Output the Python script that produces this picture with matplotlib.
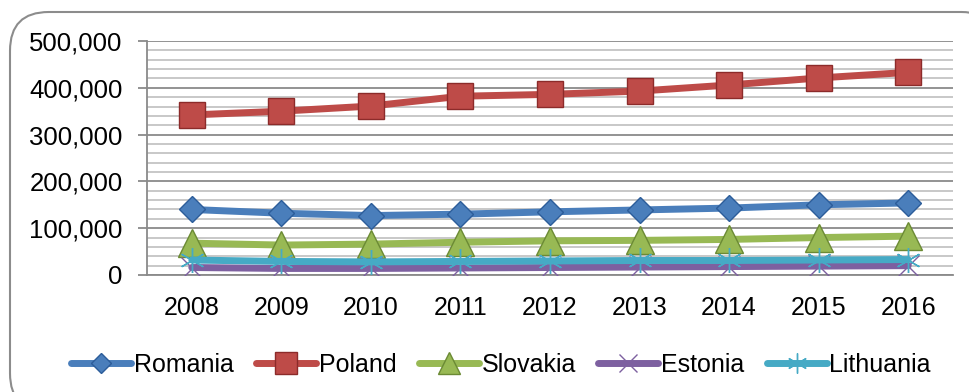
import matplotlib.pyplot as plt
from matplotlib.patches import FancyBboxPatch
from matplotlib.ticker import FuncFormatter, MultipleLocator

plt.rcParams['font.family'] = ['Liberation Sans', 'DejaVu Sans']

years = ['2008', '2009', '2010', '2011', '2012', '2013', '2014', '2015', '2016']
romania = [140000, 132000, 127000, 130000, 135000, 139000, 143000, 150000, 154000]
poland = [342000, 350000, 361000, 382000, 386000, 393000, 406000, 421000, 433000]
slovakia = [68000, 64000, 66000, 70000, 73000, 74000, 76000, 80000, 83000]
estonia = [16000, 14000, 14000, 15000, 16000, 17000, 18000, 19000, 20000]
lithuania = [32000, 29000, 28000, 29000, 30000, 31000, 31000, 32000, 33000]

fig = plt.figure(figsize=(9.69, 3.92), dpi=100)

# rounded chart frame
frame = FancyBboxPatch((10 / 969, -20 / 392), 990 / 969, 400 / 392,
                       boxstyle='round,pad=0,rounding_size=0.04',
                       transform=fig.transFigure, facecolor='white',
                       edgecolor='#8c8c8c', linewidth=1.5, zorder=-1,
                       mutation_aspect=969 / 392)
fig.add_artist(frame)

ax = fig.add_axes([147 / 969, 1 - 275 / 392, 806 / 969, 234 / 392])
ax.set_facecolor('none')
ax.set_zorder(1)

x = range(len(years))
series = [
    ('Romania', romania, '#4a7ebb', '#2c5d9a', 'D', 13),
    ('Poland', poland, '#be4b48', '#8c2b2a', 's', 19),
    ('Slovakia', slovakia, '#98b954', '#6b8a34', '^', 20),
    ('Estonia', estonia, '#7d60a0', '#7d60a0', 'x', 16),
    ('Lithuania', lithuania, '#46aac5', '#46aac5', (6, 2, 0), 18),
]
for i, (name, vals, col, edge, mk, ms) in enumerate(series):
    ax.plot(x, vals, color=col, linewidth=5, marker=mk, markersize=ms,
            markerfacecolor=col, markeredgecolor=edge, markeredgewidth=1.0,
            label=name, zorder=3 + i, solid_capstyle='round')

ax.set_xlim(-0.5, len(years) - 0.5)
ax.set_ylim(0, 500000)
ax.yaxis.set_major_locator(MultipleLocator(100000))
ax.yaxis.set_minor_locator(MultipleLocator(20000))
ax.yaxis.set_major_formatter(FuncFormatter(lambda v, p: f'{int(v):,}'))
ax.grid(which='minor', axis='y', color='#c4c4c4', linewidth=1.3, zorder=0)
ax.grid(which='major', axis='y', color='#8a8a8a', linewidth=1.3, zorder=0)
ax.set_axisbelow(True)

ax.set_xticks(list(x))
ax.set_xticklabels(years)
ax.tick_params(axis='x', length=0, pad=15, labelsize=18)
ax.tick_params(axis='y', which='major', length=6.5, color='#8a8a8a', width=1.3, pad=11, labelsize=18.5)
ax.tick_params(axis='y', which='minor', length=0)

for s in ['top', 'right']:
    ax.spines[s].set_visible(False)
for s in ['left', 'bottom']:
    ax.spines[s].set_color('#8a8a8a')
    ax.spines[s].set_linewidth(1.3)

fig.legend(loc='center', bbox_to_anchor=(0.517, 1 - 365 / 392), ncol=5,
           frameon=False, fontsize=18, handlelength=2.4, handletextpad=0.1,
           columnspacing=0.9, borderaxespad=0, markerscale=0.8)

fig.savefig('out.png', dpi=100)
